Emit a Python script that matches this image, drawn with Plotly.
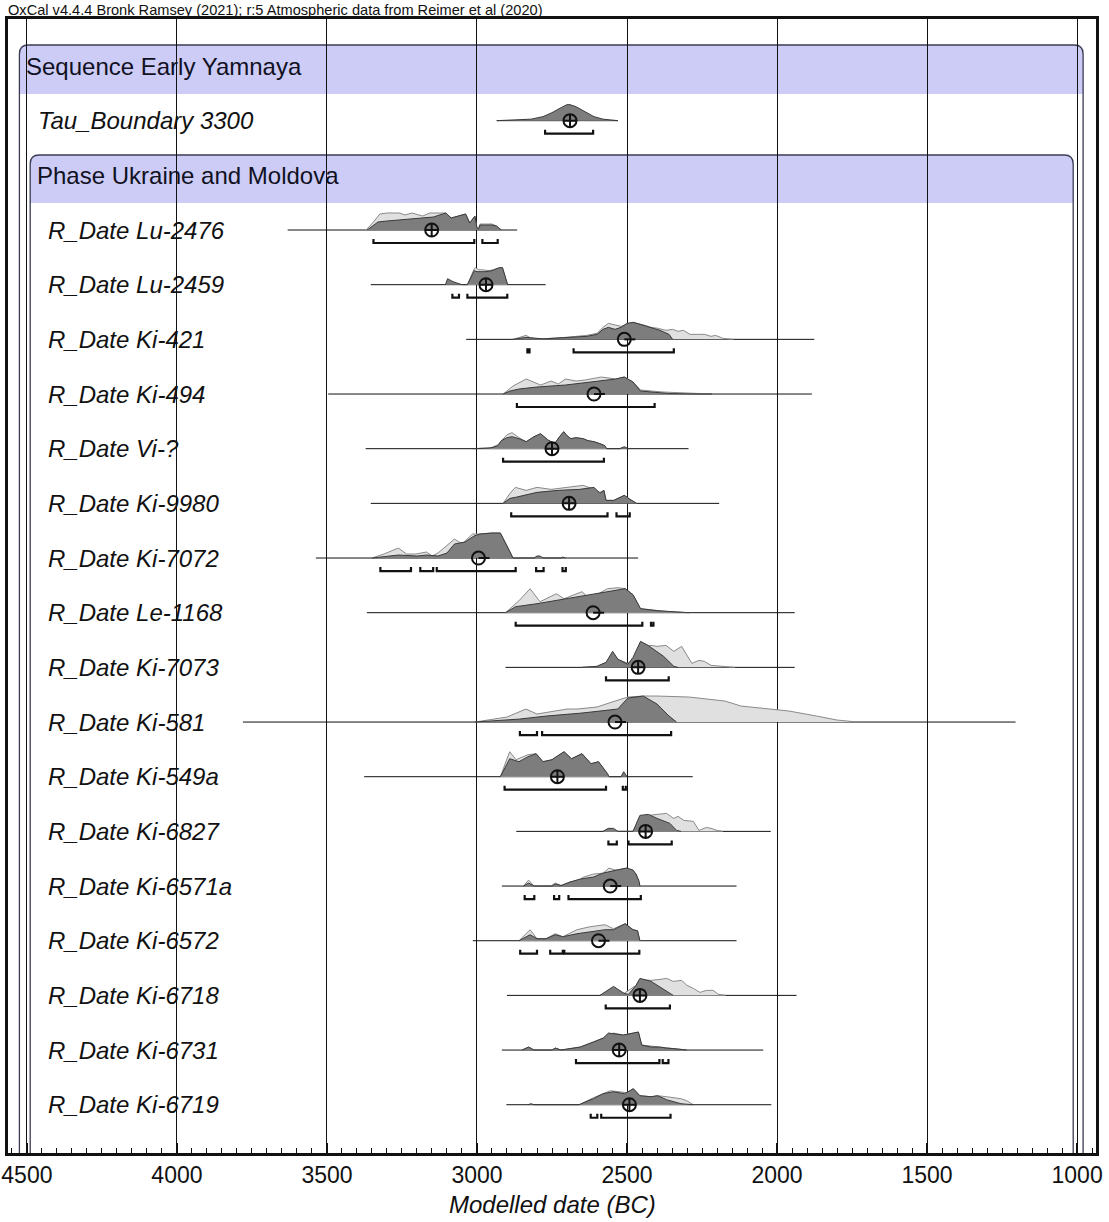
import plotly.graph_objects as go

# ---------------- data ----------------
TITLE_TEXT = "OxCal v4.4.4 Bronk Ramsey (2021); r:5 Atmospheric data from Reimer et al (2020)"
X_AXIS_TITLE = "Modelled date (BC)"
TICK_YEARS = [4500, 4000, 3500, 3000, 2500, 2000, 1500, 1000]

GROUP_LABELS = ["Sequence Early Yamnaya", "Phase Ukraine and Moldova"]
GROUP_ROWS = [0, 2]

LABELS = ["Tau_Boundary 3300", "R_Date Lu-2476", "R_Date Lu-2459", "R_Date Ki-421",
          "R_Date Ki-494", "R_Date Vi-?", "R_Date Ki-9980", "R_Date Ki-7072",
          "R_Date Le-1168", "R_Date Ki-7073", "R_Date Ki-581", "R_Date Ki-549a",
          "R_Date Ki-6827", "R_Date Ki-6571a", "R_Date Ki-6572", "R_Date Ki-6718",
          "R_Date Ki-6731", "R_Date Ki-6719"]
ROWS = [1, 3, 4, 5, 6, 7, 8, 9, 10, 11, 12, 13, 14, 15, 16, 17, 18, 19]

BASE_FROM = [2933, 3631, 3354, 3036, 3496, 3371, 3354, 3537, 3367, 2905, 3780, 3376,
             2869, 2917, 3014, 2900, 2917, 2902]
BASE_TO = [2530, 2866, 2771, 1876, 1884, 2295, 2193, 2463, 1941, 1941, 1205, 2281,
           2021, 2135, 2135, 1935, 2046, 2019]

# unmodelled (light) probability, [year BC, relative height]
LIGHT = [
    [],
    [[3370, 0], [3345, 8], [3324, 16], [3300, 17], [3258, 17], [3240, 15], [3217, 17], [3193, 15],
     [3181, 14], [3157, 17], [3145, 17], [3104, 17], [3086, 12], [3062, 14], [3038, 16], [3024, 7],
     [3007, 14], [3000, 2], [2995, 1], [2990, 6], [2950, 6], [2935, 4], [2919, 0]],
    [[3032, 0], [3015, 12], [3009, 16], [3005, 17], [2995, 15], [2985, 15], [2960, 14], [2945, 15],
     [2925, 17], [2915, 17], [2900, 3], [2898, 0]],
    [[2880, 0], [2850, 3], [2836, 4], [2820, 1], [2780, 0.5], [2705, 2], [2660, 3], [2634, 4],
     [2600, 6], [2580, 12], [2562, 16], [2545, 15], [2520, 13], [2500, 15], [2479, 17], [2440, 14],
     [2419, 12], [2396, 11], [2370, 9], [2348, 10], [2330, 8], [2312, 9], [2290, 5], [2265, 5],
     [2241, 5], [2220, 3], [2205, 4], [2180, 1], [2146, 0]],
    [[2913, 0], [2880, 8], [2836, 15], [2800, 10], [2788, 9], [2753, 13], [2729, 10], [2705, 15],
     [2670, 13], [2640, 14], [2586, 17], [2560, 16], [2538, 15], [2509, 17], [2480, 12], [2455, 4],
     [2420, 3], [2380, 2], [2300, 1], [2217, 0]],
    [[2960, 0], [2930, 4], [2900, 14], [2883, 16], [2860, 11], [2836, 7], [2810, 12], [2788, 15],
     [2765, 9], [2741, 5], [2725, 12], [2711, 17], [2700, 13], [2687, 10], [2670, 11], [2646, 10],
     [2630, 8], [2610, 7], [2590, 5], [2574, 3], [2568, 0]],
    [[2913, 0], [2890, 10], [2872, 16], [2836, 13], [2800, 16], [2753, 14], [2700, 16], [2646, 18],
     [2610, 14], [2590, 11], [2577, 13], [2570, 3], [2544, 3], [2520, 6], [2509, 8], [2490, 4],
     [2473, 1], [2468, 0]],
    [[3350, 0], [3310, 4], [3262, 10], [3235, 4], [3205, 4], [3168, 6], [3150, 2], [3130, 5],
     [3075, 19], [3050, 14], [3015, 24], [2990, 24], [2950, 25], [2922, 25], [2900, 12], [2880, 0]],
    [[2905, 0], [2860, 12], [2823, 24], [2790, 11], [2735, 19], [2710, 14], [2650, 21], [2625, 14],
     [2565, 24], [2530, 25], [2506, 24], [2480, 18], [2455, 4], [2400, 2], [2360, 1], [2293, 0]],
    [[2650, 0], [2600, 1], [2570, 5], [2548, 12], [2530, 8], [2497, 4], [2480, 8], [2455, 20],
     [2420, 22], [2400, 21], [2370, 22], [2344, 16], [2318, 21], [2300, 12], [2284, 4], [2260, 7],
     [2242, 6], [2220, 2], [2190, 1], [2140, 0]],
    [[3007, 0], [2900, 5], [2837, 13], [2800, 8], [2760, 10], [2700, 13], [2667, 13], [2600, 15],
     [2550, 20], [2497, 25], [2446, 26], [2400, 26], [2293, 25], [2242, 23], [2174, 21], [2120, 16],
     [2060, 14], [2021, 13], [1960, 11], [1868, 6], [1800, 2], [1732, 0]],
    [[2922, 0], [2891, 25], [2870, 17], [2830, 22], [2803, 23], [2780, 15], [2750, 17], [2710, 25],
     [2685, 18], [2650, 23], [2620, 13], [2595, 15], [2565, 3], [2560, 0]],
    [[2580, 0], [2562, 3], [2530, 0], [2480, 0], [2457, 14], [2429, 16], [2400, 17], [2368, 18],
     [2345, 13], [2330, 15], [2310, 11], [2279, 10], [2260, 1], [2235, 4], [2220, 3], [2200, 1],
     [2180, 0]],
    [[2845, 0], [2828, 6], [2810, 0], [2755, 0], [2739, 3], [2720, 0.5], [2690, 4], [2660, 6],
     [2645, 9], [2612, 12], [2579, 13], [2560, 18], [2540, 16], [2534, 16], [2501, 18], [2470, 12],
     [2457, 0]],
    [[2860, 0], [2823, 11], [2800, 2], [2770, 2], [2739, 7], [2714, 4], [2667, 11], [2623, 14],
     [2573, 16], [2545, 12], [2506, 17], [2480, 11], [2465, 10], [2457, 0]],
    [[2590, 0], [2545, 8], [2510, 2], [2470, 10], [2457, 16], [2420, 15], [2390, 16], [2368, 17],
     [2346, 14], [2318, 15], [2300, 10], [2279, 7], [2257, 3], [2235, 5], [2213, 5], [2195, 1],
     [2170, 0]],
    [[2850, 0], [2828, 3], [2810, 0], [2750, 0], [2739, 2], [2720, 0], [2656, 3], [2612, 8],
     [2579, 12], [2545, 17], [2530, 16], [2512, 15], [2479, 17], [2462, 18], [2451, 5], [2420, 4],
     [2392, 3], [2370, 2], [2330, 1], [2301, 0]],
    [[2660, 0], [2612, 7], [2556, 14], [2530, 13], [2500, 12], [2479, 16], [2457, 9], [2420, 8],
     [2398, 9], [2368, 8], [2346, 7], [2320, 6], [2301, 4], [2285, 1], [2279, 0]],
]

# modelled (dark) probability, [year BC, relative height]
DARK = [
    [[2935, 0], [2880, 0.5], [2820, 1.5], [2780, 4], [2750, 8], [2720, 13], [2700, 16], [2690, 16],
     [2670, 14], [2640, 9], [2610, 4], [2580, 1.5], [2550, 0.5], [2530, 0]],
    [[3366, 0], [3330, 8], [3300, 9], [3264, 10], [3217, 11], [3181, 12], [3145, 13], [3104, 17],
     [3086, 12], [3062, 14], [3038, 16], [3024, 7], [3007, 14], [3000, 2], [2995, 1], [2990, 5],
     [2950, 5], [2935, 4], [2919, 0]],
    [[3105, 0], [3098, 6], [3080, 3], [3060, 1], [3050, 0], [3032, 0], [3015, 11], [3009, 14],
     [3000, 13], [2970, 13], [2950, 14], [2940, 15], [2925, 17], [2915, 17], [2900, 3], [2898, 0]],
    [[2880, 0], [2836, 2], [2780, 0.5], [2705, 2], [2634, 3], [2600, 5], [2580, 10], [2562, 12],
     [2540, 10], [2520, 12], [2500, 16], [2479, 17], [2455, 15], [2419, 12], [2390, 9], [2360, 5],
     [2348, 0]],
    [[2913, 0], [2890, 3], [2860, 5], [2836, 6], [2800, 7], [2705, 9], [2650, 11], [2610, 12],
     [2560, 14], [2538, 15], [2509, 17], [2480, 12], [2455, 3], [2420, 2], [2400, 1], [2360, 0.5],
     [2300, 0.2], [2217, 0]],
    [[3014, 0], [2950, 1], [2930, 3], [2919, 8], [2900, 11], [2883, 12], [2860, 10], [2836, 7],
     [2810, 12], [2788, 15], [2765, 9], [2741, 5], [2725, 12], [2711, 17], [2700, 13], [2687, 10],
     [2670, 11], [2646, 10], [2630, 8], [2610, 7], [2590, 5], [2574, 3], [2568, 0], [2525, 0],
     [2509, 2], [2495, 0]],
    [[2913, 0], [2890, 5], [2872, 6], [2800, 11], [2729, 13], [2658, 14], [2610, 16], [2590, 10],
     [2577, 13], [2570, 3], [2544, 3], [2520, 6], [2509, 8], [2490, 4], [2473, 1], [2468, 0]],
    [[3350, 0], [3262, 3], [3200, 2], [3168, 3], [3130, 2], [3100, 5], [3075, 14], [3040, 16],
     [3010, 22], [2990, 24], [2950, 25], [2922, 25], [2900, 12], [2880, 0], [2810, 0], [2800, 2],
     [2790, 2], [2780, 0], [2720, 0], [2715, 1], [2705, 0]],
    [[2905, 0], [2871, 6], [2800, 9], [2700, 14], [2600, 19], [2565, 21], [2506, 24], [2480, 18],
     [2455, 4], [2400, 2], [2360, 1], [2293, 0]],
    [[2650, 0], [2600, 1], [2570, 5], [2548, 16], [2530, 8], [2497, 3], [2480, 10], [2455, 26],
     [2430, 22], [2412, 18], [2378, 11], [2344, 1], [2330, 0]],
    [[3007, 0], [2857, 3], [2769, 6], [2650, 9], [2531, 13], [2497, 24], [2446, 26], [2400, 18],
     [2360, 6], [2335, 0]],
    [[2922, 0], [2891, 18], [2860, 15], [2830, 20], [2803, 23], [2780, 15], [2750, 17], [2710, 25],
     [2685, 18], [2650, 23], [2620, 13], [2595, 15], [2565, 3], [2560, 0], [2520, 0], [2511, 5],
     [2500, 0]],
    [[2580, 0], [2562, 3], [2545, 3], [2530, 0], [2480, 0], [2473, 5], [2457, 16], [2429, 17],
     [2400, 13], [2357, 8], [2335, 1], [2320, 0]],
    [[2845, 0], [2828, 3], [2810, 0], [2750, 0], [2739, 2], [2720, 0.5], [2690, 4], [2656, 7],
     [2612, 9], [2579, 13], [2534, 16], [2501, 18], [2480, 16], [2470, 12], [2460, 5], [2457, 0]],
    [[2860, 0], [2823, 6], [2800, 2], [2770, 2], [2739, 6], [2714, 4], [2667, 7], [2623, 9],
     [2573, 11], [2545, 11], [2506, 17], [2480, 11], [2465, 10], [2457, 0]],
    [[2590, 0], [2545, 9], [2510, 2], [2495, 1], [2470, 10], [2457, 17], [2420, 14], [2368, 4],
     [2346, 0]],
    [[2850, 0], [2828, 3], [2810, 0], [2750, 0], [2739, 2], [2720, 0], [2700, 1], [2656, 3],
     [2612, 8], [2579, 12], [2562, 17], [2512, 15], [2479, 17], [2462, 18], [2451, 5], [2420, 3],
     [2392, 3], [2370, 2], [2330, 1], [2301, 0]],
    [[2830, 0], [2820, 1], [2810, 0], [2660, 0], [2612, 6], [2580, 11], [2545, 13], [2508, 11],
     [2479, 16], [2457, 9], [2420, 8], [2398, 9], [2368, 5], [2346, 3], [2320, 1], [2301, 0.5],
     [2279, 0]],
]

# 95.4% highest posterior density ranges
RANGES = [
    [[2773, 2613]],
    [[3345, 3009], [2982, 2931]],
    [[3082, 3060], [3032, 2899]],
    [[2832, 2825], [2678, 2344]],
    [[2867, 2408]],
    [[2913, 2577]],
    [[2886, 2565], [2535, 2491]],
    [[3322, 3220], [3189, 3146], [3134, 2871], [2803, 2778], [2715, 2704]],
    [[2871, 2449], [2420, 2412]],
    [[2570, 2361]],
    [[2857, 2800], [2783, 2353]],
    [[2908, 2570], [2514, 2504]],
    [[2562, 2534], [2495, 2351]],
    [[2841, 2809], [2743, 2726], [2695, 2454]],
    [[2856, 2800], [2756, 2714], [2709, 2459]],
    [[2571, 2357]],
    [[2670, 2392], [2381, 2362]],
    [[2621, 2599], [2586, 2355]],
]

MARKER_YEAR = [2690, 3151, 2970, 2509, 2610, 2750, 2693, 2995, 2613, 2463, 2540, 2732,
               2438, 2556, 2595, 2457, 2526, 2492]
MARKER_KIND = ["cross", "cross", "cross", "bar", "bar", "cross", "cross", "bar", "bar", "cross",
               "bar", "cross", "cross", "bar", "bar", "cross", "cross", "cross"]

# ---------------- layout constants ----------------
W, H = 1109, 1222
M_L, M_R, M_T, M_B = 8, 13, 19, 69
X_RANGE = [4563, 937]
PX_PER_ROW = 54.67
ROW0_PX = 66
plot_h = H - M_T - M_B
Y_TOP = (M_T - ROW0_PX) / PX_PER_ROW
Y_BOT = (H - M_B - ROW0_PX) / PX_PER_ROW
YPX = 1.0 / PX_PER_ROW        # one pixel in row units
XPX = (X_RANGE[0] - X_RANGE[1]) / (W - M_L - M_R)  # years per pixel

FONT = "Arial, 'Liberation Sans', sans-serif"
LIGHT_FILL = "#e0e0e0"
LIGHT_LINE = "#8a8a8a"
DARK_FILL = "#7d7d7d"
DARK_LINE = "#3a3a3a"
BAND = "#ccccf7"
BOX_LINE = "#3c3c55"

fig = go.Figure()

for i, row in enumerate(ROWS):
    # baseline
    fig.add_trace(go.Scatter(x=[BASE_FROM[i], BASE_TO[i]], y=[row, row], mode="lines",
                             line=dict(color="#111", width=1), hoverinfo="skip", showlegend=False))
    if LIGHT[i]:
        fig.add_trace(go.Scatter(x=[p[0] for p in LIGHT[i]],
                                 y=[row - p[1] * YPX for p in LIGHT[i]],
                                 mode="lines", fill="toself", fillcolor=LIGHT_FILL,
                                 line=dict(color=LIGHT_LINE, width=1), hoverinfo="skip",
                                 showlegend=False))
    fig.add_trace(go.Scatter(x=[p[0] for p in DARK[i]],
                             y=[row - p[1] * YPX for p in DARK[i]],
                             mode="lines", fill="toself", fillcolor=DARK_FILL,
                             line=dict(color=DARK_LINE, width=1), hoverinfo="skip",
                             showlegend=False))
    # range brackets
    yb = row + 13 * YPX
    yt = yb - 4 * YPX
    for a, b in RANGES[i]:
        fig.add_trace(go.Scatter(x=[a, a, b, b], y=[yt, yb, yb, yt], mode="lines",
                                 line=dict(color="#111", width=2.2), hoverinfo="skip",
                                 showlegend=False))
    # marker
    if MARKER_KIND[i] == "bar":
        fig.add_trace(go.Scatter(x=[MARKER_YEAR[i], MARKER_YEAR[i] - 11 * XPX], y=[row, row],
                                 mode="lines", line=dict(color="#111", width=2),
                                 hoverinfo="skip", showlegend=False))
        sym = "circle-open"
    else:
        sym = "circle-cross-open"
    fig.add_trace(go.Scatter(x=[MARKER_YEAR[i]], y=[row], mode="markers",
                             marker=dict(symbol=sym, size=13, color="#111",
                                         line=dict(width=2, color="#111")),
                             hoverinfo="skip", showlegend=False))

# ---------------- boxes ----------------
def outline_path(x0, x1, ytop, ybot, rx, ry):
    return (f"M {x0},{ybot} L {x0},{ytop + ry} Q {x0},{ytop} {x0 - rx},{ytop} "
            f"L {x1 + rx},{ytop} Q {x1},{ytop} {x1},{ytop + ry} L {x1},{ybot}")


def band_path(x0, x1, ytop, ybot, rx, ry):
    return (f"M {x0},{ybot} L {x0},{ytop + ry} Q {x0},{ytop} {x0 - rx},{ytop} "
            f"L {x1 + rx},{ytop} Q {x1},{ytop} {x1},{ytop + ry} L {x1},{ybot} Z")


BOXES = [  # left year, right year, header top (rows), header bottom (rows)
    (4525, 980, (45 - ROW0_PX) / PX_PER_ROW, (94 - ROW0_PX) / PX_PER_ROW),
    (4489, 1013, (155 - ROW0_PX) / PX_PER_ROW, (203 - ROW0_PX) / PX_PER_ROW),
]
RX, RY = 9 * XPX, 9 * YPX
shapes = []
for x0, x1, yt, yb in BOXES:
    shapes.append(dict(type="path", path=band_path(x0, x1, yt, yb, RX, RY), xref="x", yref="y",
                       fillcolor=BAND, line=dict(width=0), layer="below"))
    shapes.append(dict(type="path", path=outline_path(x0, x1, yt, Y_BOT, RX, RY), xref="x",
                       yref="y", line=dict(color=BOX_LINE, width=1.3), layer="below"))

annotations = []
for lab, r in zip(GROUP_LABELS, GROUP_ROWS):
    annotations.append(dict(text=lab, x=0, xref="x domain", xanchor="left",
                            xshift=16 if r == 0 else 27, y=r, yref="y", yanchor="middle",
                            showarrow=False, font=dict(family=FONT, size=24, color="#111122")))
for lab, r in zip(LABELS, ROWS):
    annotations.append(dict(text=f"<i>{lab}</i>", x=0, xref="x domain", xanchor="left",
                            xshift=28 if r == 1 else 38, y=r, yref="y", yanchor="middle",
                            showarrow=False, font=dict(family=FONT, size=24, color="#111")))
annotations.append(dict(text=TITLE_TEXT, x=0, xref="paper", xanchor="left", y=1 + 9 / plot_h,
                        yref="paper", yanchor="middle", showarrow=False, xshift=-2,
                        font=dict(family=FONT, size=14.6, color="#111")))
annotations.append(dict(text=f"<i>{X_AXIS_TITLE}</i>", x=0.5, xref="paper", xanchor="center",
                        y=-(1205 - (H - M_B)) / plot_h, yref="paper", yanchor="middle",
                        showarrow=False, font=dict(family=FONT, size=24, color="#111")))

fig.update_layout(
    width=W, height=H,
    margin=dict(l=M_L, r=M_R, t=M_T, b=M_B, autoexpand=False),
    paper_bgcolor="white", plot_bgcolor="white",
    shapes=shapes, annotations=annotations,
    xaxis=dict(range=X_RANGE, tickvals=TICK_YEARS, ticktext=[str(t) for t in TICK_YEARS],
               ticks="inside", ticklen=10, tickwidth=1.5, tickcolor="#111",
               showgrid=True, gridcolor="#111", gridwidth=1, automargin=False,
               showline=True, linecolor="#111", linewidth=2.5, mirror=True,
               zeroline=False,
               tickfont=dict(family=FONT, size=23, color="#111"),
               minor=dict(tick0=0, dtick=50, ticks="inside", ticklen=5, tickcolor="#111",
                          tickwidth=1, showgrid=False)),
    yaxis=dict(range=[Y_BOT, Y_TOP], showticklabels=False, ticks="", showgrid=False,
               automargin=False, zeroline=False, showline=True, linecolor="#111",
               linewidth=2.5, mirror=True),
)

fig.write_html("out.html")
